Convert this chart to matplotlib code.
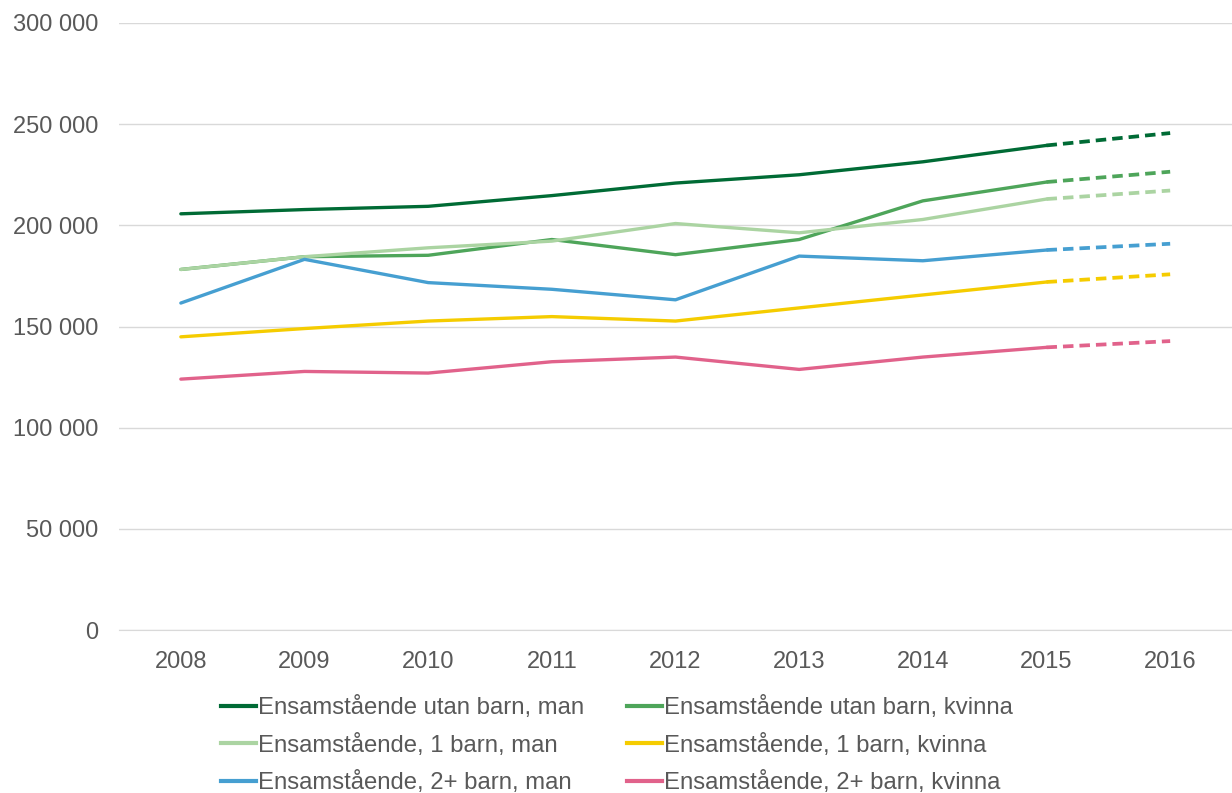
import matplotlib
matplotlib.use("Agg")
import matplotlib.pyplot as plt
from matplotlib.lines import Line2D

plt.rcParams["font.family"] = ["Liberation Sans", "DejaVu Sans"]

years = ["2008", "2009", "2010", "2011", "2012", "2013", "2014", "2015", "2016"]

utan_man = [205700, 207800, 209400, 214700, 220900, 225000, 231400, 239500, 245600]
utan_kvinna = [178200, 184500, 185200, 193000, 185500, 193000, 212100, 221400, 226500]
ett_man = [178200, 184500, 188900, 192200, 200900, 196300, 202900, 213000, 217200]
ett_kvinna = [144900, 149000, 152700, 154900, 152700, 159200, 165600, 172000, 175800]
tva_man = [161600, 183200, 171700, 168400, 163200, 184800, 182500, 187800, 190900]
tva_kvinna = [124000, 127800, 127000, 132600, 134900, 128800, 134900, 139700, 142800]

series = [
    ("Ensamstående utan barn, man", utan_man, "#006B35"),
    ("Ensamstående utan barn, kvinna", utan_kvinna, "#4EA55A"),
    ("Ensamstående, 1 barn, man", ett_man, "#ABD4A2"),
    ("Ensamstående, 1 barn, kvinna", ett_kvinna, "#F5CC00"),
    ("Ensamstående, 2+ barn, man", tva_man, "#469FD1"),
    ("Ensamstående, 2+ barn, kvinna", tva_kvinna, "#E1628B"),
]

TEXT = "#595959"

fig = plt.figure(figsize=(12.32, 7.93), dpi=100)
ax = fig.add_axes([0.0966, 0.2055, 0.9034, 0.7655])

x = list(range(len(years)))
for label, values, color in series:
    ax.plot(x[:8], values[:8], color=color, lw=2.4, solid_capstyle="round", label=label)
    ax.plot(x[7:], values[7:], color=color, lw=2.7, ls=(0, (2.8, 1.6)))

ax.set_xlim(-0.5, 8.5)
ax.set_ylim(0, 300000)
ax.set_yticks(range(0, 300001, 50000))
ax.set_yticklabels([f"{v:,}".replace(",", " ") for v in range(0, 300001, 50000)])
ax.set_xticks(x)
ax.set_xticklabels(years)
ax.grid(axis="y", color="#D9D9D9", lw=1)
ax.set_axisbelow(True)
for side in ["top", "right", "left"]:
    ax.spines[side].set_visible(False)
ax.spines["bottom"].set_color("#D9D9D9")
ax.tick_params(axis="both", length=0, labelsize=17, colors=TEXT)
ax.tick_params(axis="y", pad=15)
ax.tick_params(axis="x", pad=15)

order = [0, 2, 4, 1, 3, 5]
leg_handles = [Line2D([0], [0], color=series[i][2], lw=3) for i in order]
leg_labels = [series[i][0] for i in order]
leg = fig.legend(leg_handles, leg_labels, ncol=2, loc="upper left",
                 bbox_to_anchor=(0.1795, 0.122), frameon=False, fontsize=17.2,
                 handlelength=1.45, handletextpad=0.1, columnspacing=1.8,
                 labelspacing=0.6, borderaxespad=0, borderpad=0)
for t in leg.get_texts():
    t.set_color(TEXT)

fig.savefig("out.png", dpi=100)
